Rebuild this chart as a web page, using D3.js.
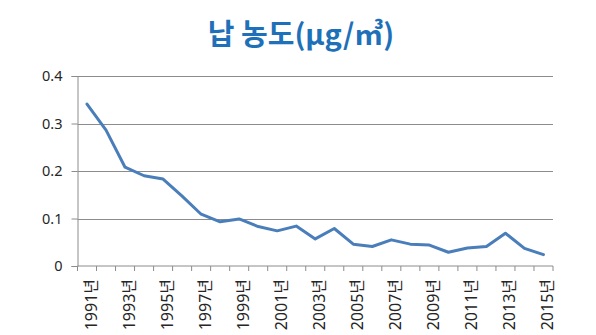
<!DOCTYPE html>
<html>
<head>
<meta charset="utf-8">
<script src="https://cdn.jsdelivr.net/npm/d3@7"></script>
<style>
  html, body { margin: 0; padding: 0; background: #ffffff; }
  svg { display: block; }
</style>
</head>
<body>
<script>
// Annual lead concentration (μg/㎥), 1991–2015
const years = d3.range(1991, 2016).map(String);
const leadValues = [
  0.341, 0.286, 0.208, 0.190, 0.183, 0.147, 0.109, 0.093, 0.099, 0.083,
  0.074, 0.084, 0.057, 0.079, 0.046, 0.041, 0.055, 0.046, 0.044, 0.029,
  0.038, 0.041, 0.069, 0.037, 0.024
];
const yTicks = [0, 0.1, 0.2, 0.3, 0.4];
const yearSuffix = "년";
const titleText = "납 농도(μg/㎥)";

const W = 596, H = 335;
const margin = { left: 77.5, right: 43, top: 76, bottom: 69 };

const svg = d3.select("body").append("svg")
  .attr("width", W).attr("height", H);

const x = d3.scaleBand()
  .domain(years)
  .range([margin.left, W - margin.right]);

const y = d3.scaleLinear()
  .domain([0, 0.4])
  .range([H - margin.bottom, margin.top]);

const axisColor = "#8c8c8c";
const labelFont = "'Noto Sans', 'Noto Sans CJK KR', sans-serif";

// Title
svg.append("text")
  .attr("x", 301).attr("y", 45)
  .attr("text-anchor", "middle")
  .attr("font-family", "'Noto Sans CJK KR', sans-serif")
  .attr("font-weight", 700)
  .attr("font-size", 29)
  .attr("fill", "#1e70b8")
  .text(titleText);

// Horizontal gridlines
svg.append("g")
  .selectAll("line")
  .data(yTicks.filter(d => d > 0))
  .join("line")
  .attr("x1", margin.left).attr("x2", W - margin.right)
  .attr("y1", d => Math.round(y(d)) + 0.5)
  .attr("y2", d => Math.round(y(d)) + 0.5)
  .attr("stroke", axisColor).attr("stroke-width", 1);

// Y axis
const yAxis = svg.append("g")
  .attr("transform", `translate(${margin.left},0)`)
  .call(d3.axisLeft(y).tickValues(yTicks).tickSize(6).tickPadding(9)
    .tickFormat(d => d === 0 ? "0" : d3.format(".1f")(d)));
yAxis.select(".domain").attr("stroke", axisColor);
yAxis.selectAll(".tick line").attr("stroke", axisColor);
yAxis.selectAll("text")
  .attr("font-family", labelFont).attr("font-size", 14.5).attr("fill", "#262626");

// X axis: tick marks at category boundaries
const xAxisG = svg.append("g")
  .attr("transform", `translate(0,${y(0)})`);
xAxisG.append("line")
  .attr("x1", margin.left).attr("x2", W - margin.right)
  .attr("stroke", axisColor);
const boundaries = years.map(d => x(d)).concat([x(years[years.length - 1]) + x.bandwidth()]);
xAxisG.selectAll("line.tk")
  .data(boundaries)
  .join("line")
  .attr("class", "tk")
  .attr("x1", d => d).attr("x2", d => d)
  .attr("y1", 0).attr("y2", 5)
  .attr("stroke", axisColor);

// Rotated year labels for every other year
xAxisG.selectAll("text")
  .data(years.filter((d, i) => i % 2 === 0))
  .join("text")
  .attr("transform", d => `translate(${x(d) + x.bandwidth() / 2 + 4},13) rotate(-90)`)
  .attr("text-anchor", "end")
  .attr("dy", "0.35em")
  .attr("font-family", labelFont)
  .attr("font-size", 16)
  .attr("fill", "#262626")
  .text(d => d + yearSuffix);

// Concentration line
const line = d3.line()
  .x((d, i) => x(years[i]) + x.bandwidth() / 2)
  .y(d => y(d));

svg.append("path")
  .datum(leadValues)
  .attr("d", line)
  .attr("fill", "none")
  .attr("stroke", "#4a7ebb")
  .attr("stroke-width", 3)
  .attr("stroke-linejoin", "round")
  .attr("stroke-linecap", "round");
</script>
</body>
</html>
